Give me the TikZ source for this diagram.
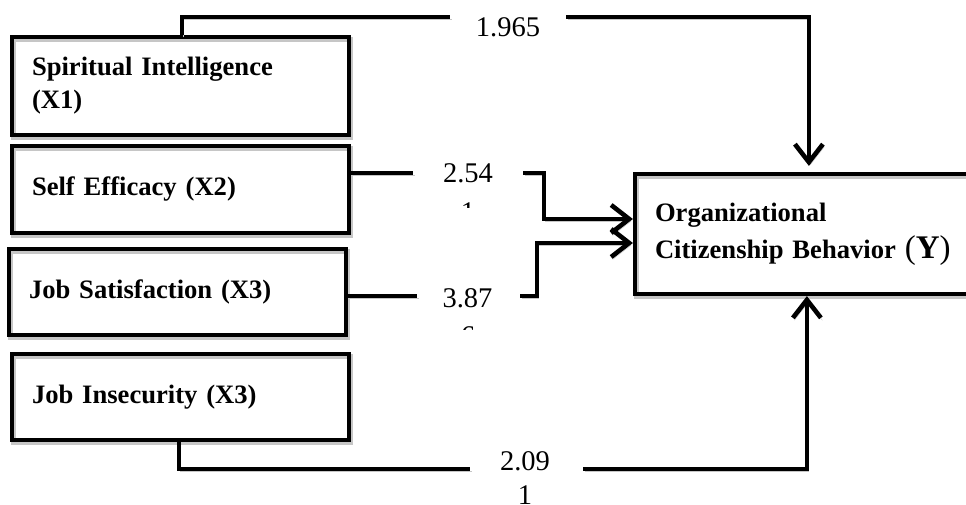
\documentclass[tikz,border=0pt]{standalone}
\usepackage{fontspec}
\setmainfont{Liberation Serif}
\usetikzlibrary{arrows.meta}
\begin{document}
\begin{tikzpicture}[x=1pt,y=-1pt,
  shadowed/.style={preaction={draw=gray!45, transform canvas={shift={(1.5pt,-2.5pt)}}}},
  varbox/.style={shadowed, draw, line width=4.2pt, rectangle, inner xsep=20pt, inner ysep=0pt,
    minimum width=337pt, text width=297pt, align=left,
    font=\fontsize{26.6}{33}\selectfont\bfseries},
  conn/.style={shadowed, line width=4.6pt},
  arr/.style={conn, -{Straight Barb[length=18pt,width=28pt]}},
  num/.style={font=\fontsize{28.5}{30}\selectfont, inner sep=0pt, anchor=base}]
\useasboundingbox (0,0) rectangle (966,505);
% variable boxes
\node[varbox, minimum height=98pt] (b1) at (180.5,86) {Spiritual Intelligence\\(X1)};
\node[varbox, minimum height=87pt] (b2) at (180.5,189.5) {Self Efficacy (X2)};
\node[varbox, minimum height=86pt] (b3) at (177.5,292) {Job Satisfaction (X3)};
\node[varbox, minimum height=86pt] (b4) at (180.5,397) {Job Insecurity (X3)};
\node[varbox, minimum width=355pt, text width=315pt, minimum height=120pt,
  font=\fontsize{26.6}{37}\selectfont\bfseries] (y) at (812.5,234)
  {Organizational\\Citizenship Behavior {\fontsize{33}{37}\selectfont\mdseries(\textbf{Y})}};
% gaps left for the coefficient labels
\coordinate (g1a) at (450,17);  \coordinate (g1b) at (566,17);
\coordinate (g2a) at (413,173); \coordinate (g2b) at (523,173); \coordinate (k2) at (544,173);
\coordinate (g3a) at (417,296); \coordinate (g3b) at (520,296); \coordinate (k3) at (537,296);
\coordinate (g4a) at (470,469); \coordinate (g4b) at (583,469);
% connectors
\draw[conn] ([xshift=172pt]b1.north west) |- (g1a);
\draw[arr] (g1b) -| ([xshift=176pt,yshift=6pt]y.north west);
\draw[conn] ([yshift=16.5pt]b2.east) -- (g2a);
\draw[arr] (g2b) -- (k2) |- ([yshift=15pt]y.west);
\draw[conn] ([yshift=-4pt]b3.east) -- (g3a);
\draw[arr] (g3b) -- (k3) |- ([yshift=-9pt]y.west);
\draw[conn] ([xshift=169pt]b4.south west) |- (g4a);
\draw[arr] (g4b) -| ([xshift=174pt]y.south west);
% coefficient labels
\node[num] (n1) at (508,37) {1.965};
\node[num] (n2) at (468,183) {2.54};
\node[num] (n3) at (467.5,307) {3.87};
\node[num] (n4) at (525,470) {2.09};
\node[num] (n4b) at (525,504) {1};
\begin{scope}
  \clip (420,195) rectangle (520,208);
  \node[num] (n2b) at (468,222) {1};
\end{scope}
\begin{scope}
  \clip (420,318) rectangle (520,329);
  \node[num] (n3b) at (468,345) {6};
\end{scope}
\end{tikzpicture}
\end{document}
